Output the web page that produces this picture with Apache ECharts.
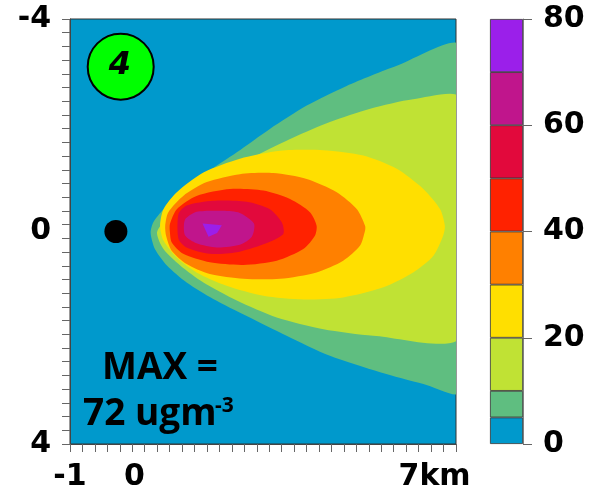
<!DOCTYPE html>
<html><head><meta charset="utf-8">
<script src="https://cdn.jsdelivr.net/npm/echarts@6/dist/echarts.min.js"></script>
<style>html,body{margin:0;padding:0;background:#fff}#c{width:593px;height:497px}</style>
</head><body><div id="c"></div>
<script>
// Colour levels (ugm-3) and fill colours
const levels = [0, 5, 10, 20, 30, 40, 50, 60, 70, 80];
const levelColors = ['#0099CC', '#5FBE80', '#C0E234', '#FFDF00', '#FF8000', '#FF2200', '#E2093C', '#C0158C', '#9B1FEA'];
const colorbarTicks = [0, 20, 40, 60, 80];

// Axis labels
const xLabelValues = [-1.5, 0, 7];
const xLabelTexts = ['-1', '0', '7km'];
const yLabelValues = [-4, 0, 4];
const yLabelTexts = ['-4', '0', '4'];

// Contour outlines, [x km, y km]
const c5 = [[7.6,-3.49],[6.12,-3.12],[4.95,-2.74],[4.02,-2.37],[3.16,-1.93],[2.39,-1.49],[1.69,-1.11],[1.07,-0.74],[0.68,-0.42],[0.44,-0.17],[0.38,0.03],[0.48,0.33],[0.76,0.64],[1.22,0.96],[1.84,1.27],[2.62,1.59],[3.55,1.96],[4.56,2.34],[5.73,2.65],[6.74,2.87],[7.6,3.02]];
const c10 = [[7.6,-2.51],[6.50,-2.49],[5.50,-2.31],[4.56,-2.06],[3.71,-1.77],[2.85,-1.43],[2.07,-1.05],[1.38,-0.67],[0.83,-0.30],[0.53,0.01],[0.68,0.33],[1.07,0.64],[1.61,0.96],[2.39,1.30],[3.32,1.62],[4.41,1.84],[5.57,1.96],[7.6,1.98]];
const c20 = [[0.60,-0.11],[0.68,-0.42],[0.99,-0.74],[1.61,-1.11],[2.46,-1.37],[3.40,-1.52],[4.41,-1.53],[5.34,-1.43],[6.12,-1.18],[6.74,-0.80],[7.13,-0.42],[7.24,-0.11],[7.20,0.08],[6.97,0.46],[6.50,0.77],[5.81,1.05],[4.87,1.24],[3.94,1.28],[3.01,1.21],[2.15,1.02],[1.45,0.77],[0.99,0.49],[0.68,0.17]];
const c30 = [[0.72,-0.11],[0.79,-0.36],[1.14,-0.67],[1.69,-0.93],[2.46,-1.08],[3.24,-1.10],[4.02,-0.99],[4.72,-0.74],[5.19,-0.42],[5.38,-0.11],[5.38,-0.02],[5.26,0.27],[4.87,0.55],[4.25,0.77],[3.40,0.89],[2.54,0.89],[1.76,0.80],[1.22,0.61],[0.87,0.36],[0.74,0.08]];
const c40 = [[0.83,-0.14],[0.99,-0.42],[1.45,-0.67],[2.23,-0.80],[3.01,-0.77],[3.63,-0.61],[4.10,-0.36],[4.25,-0.11],[4.21,0.08],[3.94,0.33],[3.32,0.55],[2.54,0.63],[1.76,0.58],[1.14,0.42],[0.87,0.20],[0.83,0.02]];
const c50 = [[1.03,-0.33],[1.22,-0.49],[1.84,-0.58],[2.62,-0.56],[3.16,-0.42],[3.44,-0.17],[3.47,0.05],[3.01,0.24],[2.39,0.39],[1.76,0.42],[1.22,0.30],[1.03,0.14]];
const c60 = [[1.18,-0.22],[1.45,-0.37],[2.07,-0.39],[2.46,-0.35],[2.79,-0.15],[2.74,0.10],[2.46,0.25],[1.92,0.30],[1.45,0.22],[1.18,0.07]];
const c70 = [[1.59,-0.15],[2.04,-0.12],[1.93,0.03],[1.73,0.10]];
const contourList = [c5, c10, c20, c30, c40, c50, c60, c70];

// Source location
const source = [[-0.43, 0]];

const X_MIN = -1.5, X_MAX = 7.5, Y_MIN = -4, Y_MAX = 4, N_TICKS = 31;
const xTicks = [], yTicks = [];
for (let i = 0; i <= N_TICKS; i++) {
  xTicks.push(X_MIN + i * (X_MAX - X_MIN) / N_TICKS);
  yTicks.push(Y_MIN + i * (Y_MAX - Y_MIN) / N_TICKS);
}

const labelFont = { fontFamily: 'DejaVu Sans', fontWeight: 'bold', fontSize: 30, color: '#000' };
const segHeights = levels.slice(1).map((v, i) => v - levels[i]);

const chart = echarts.init(document.getElementById('c'), null, { renderer: 'canvas' });
chart.setOption({
  animation: false,
  backgroundColor: '#fff',
  grid: [
    { left: 70, top: 19, width: 386, height: 425, show: true, backgroundColor: levelColors[0], borderColor: '#333', borderWidth: 1 },
    { left: 490, top: 19, width: 33, height: 425 }
  ],
  xAxis: [
    { type: 'value', gridIndex: 0, min: X_MIN, max: X_MAX, splitLine: { show: false },
      axisLine: { show: true, onZero: false, lineStyle: { color: '#444', width: 1 } },
      axisTick: { show: true, length: 8, lineStyle: { color: '#666' }, customValues: xTicks },
      axisLabel: Object.assign({ margin: 18, customValues: xLabelValues,
        formatter: v => { const i = xLabelValues.findIndex(t => Math.abs(t - v) < 1e-6); return i >= 0 ? xLabelTexts[i] : ''; } }, labelFont) },
    { type: 'category', gridIndex: 1, data: ['bar'], show: false }
  ],
  yAxis: [
    { type: 'value', gridIndex: 0, min: Y_MIN, max: Y_MAX, inverse: true, splitLine: { show: false },
      axisLine: { show: true, onZero: false, lineStyle: { color: '#444', width: 1 } },
      axisTick: { show: true, length: 8, lineStyle: { color: '#666' }, customValues: yTicks },
      axisLabel: Object.assign({ margin: 19, customValues: yLabelValues,
        formatter: v => { const i = yLabelValues.findIndex(t => Math.abs(t - v) < 1e-6); return i >= 0 ? yLabelTexts[i] : ''; } }, labelFont) },
    { type: 'value', gridIndex: 1, min: levels[0], max: levels[levels.length - 1], interval: 20, position: 'right',
      splitLine: { show: false },
      axisLine: { show: true, lineStyle: { color: '#888', width: 1 } },
      axisTick: { show: true, length: 9, lineStyle: { color: '#666' } },
      axisLabel: Object.assign({ margin: 20 }, labelFont) }
  ],
  series: [
    {
      type: 'custom', coordinateSystem: 'cartesian2d', xAxisIndex: 0, yAxisIndex: 0, clip: true, silent: true,
      data: contourList.map(c => c[0]),
      encode: { x: 0, y: 1 },
      renderItem: (params, api) => {
        const poly = contourList[params.dataIndex];
        return {
          type: 'polygon',
          shape: { points: poly.map(p => api.coord(p)), smooth: params.dataIndex >= 7 ? 0 : 0.25 },
          style: { fill: levelColors[params.dataIndex + 1] }
        };
      }
    },
    {
      type: 'scatter', xAxisIndex: 0, yAxisIndex: 0, data: source, symbol: 'circle', symbolSize: 23,
      itemStyle: { color: '#000', opacity: 1 }, silent: true
    }
  ].concat(segHeights.map((h, i) => ({
    type: 'bar', xAxisIndex: 1, yAxisIndex: 1, stack: 'cb', barWidth: '100%', silent: true,
    data: [h], itemStyle: { color: levelColors[i], borderColor: '#333', borderWidth: 0.8 }
  }))),
  graphic: [
    { type: 'circle', shape: { cx: 120.7, cy: 66.7, r: 33 }, style: { fill: '#00FF00', stroke: '#000', lineWidth: 2 }, z: 100 },
    { type: 'text', x: 120, y: 65.5, z: 101, style: { text: '4', fontFamily: 'DejaVu Sans', fontWeight: 'bold', fontStyle: 'italic', fontSize: 32, fill: '#000', align: 'center', verticalAlign: 'middle' } },
    { type: 'text', x: 160, y: 368.5, z: 101, style: { text: 'MAX =', fontFamily: 'Open Sans', fontWeight: 'bold', fontSize: 37, fill: '#000', align: 'center', verticalAlign: 'middle' } },
    { type: 'text', x: 83, y: 414, z: 101, style: { text: '72 ugm', fontFamily: 'Open Sans', fontWeight: 'bold', fontSize: 37, fill: '#000', align: 'left', verticalAlign: 'middle' } },
    { type: 'text', x: 215, y: 406, z: 101, style: { text: '-3', fontFamily: 'Open Sans', fontWeight: 'bold', fontSize: 21, fill: '#000', align: 'left', verticalAlign: 'middle' } }
  ]
});
</script>
</body></html>
